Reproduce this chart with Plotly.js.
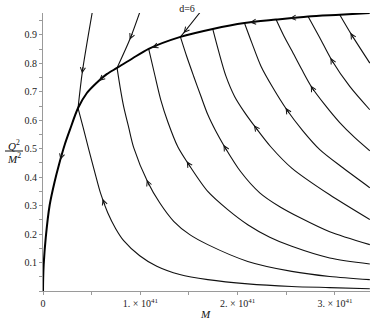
<!DOCTYPE html>
<html><head><meta charset="utf-8">
<script src="https://cdn.plot.ly/plotly-3.0.1.min.js"></script>
<style>html,body{margin:0;padding:0;background:#fff}#chart{width:374px;height:320px}</style>
</head><body><div id="chart"></div>
<script>
// ---- data (M in units of 1e41, y = Q^2/M^2) ----
const xTickVals = [0, 1, 2, 3];
const xTickText = ['0', '1. × 10<sup>41</sup>', '2. × 10<sup>41</sup>', '3. × 10<sup>41</sup>'];
const yTickVals = [0.1, 0.2, 0.3, 0.4, 0.5, 0.6, 0.7, 0.8, 0.9];
const yTickText = ['0.1', '0.2', '0.3', '0.4', '0.5', '0.6', '0.7', '0.8', '0.9'];

// bold extremal curve
const boldX = [0, 0.002, 0.007, 0.028, 0.069, 0.120, 0.164, 0.223, 0.277, 0.360, 0.449, 0.549, 0.655, 0.761, 0.922, 1.086, 1.412, 1.744, 2.070, 2.395, 2.724, 3.049, 3.357];
const boldY = [0, 0.046, 0.0925, 0.187, 0.303, 0.385, 0.444, 0.514, 0.567, 0.643, 0.695, 0.731, 0.762, 0.784, 0.818, 0.851, 0.893, 0.921, 0.942, 0.954, 0.965, 0.971, 0.977];

// flow lines above the bold curve (coming down onto it)
const flow1UpX = [0.511, 0.405, 0.360];
const flow1UpY = [0.989, 0.772, 0.643];
const flow2UpX = [1.004, 0.898, 0.761];
const flow2UpY = [0.989, 0.889, 0.784];
const flow4UpX = [1.611, 1.446, 1.412];
const flow4UpY = [0.978, 0.907, 0.893];

// flow lines below the bold curve
const flow1X = [0.360, 0.413, 0.470, 0.531, 0.593, 0.665, 0.747, 0.829, 0.994, 1.169, 1.405, 1.693, 2.104, 2.556, 2.946, 3.358];
const flow1Y = [0.643, 0.574, 0.498, 0.419, 0.342, 0.275, 0.219, 0.177, 0.124, 0.087, 0.058, 0.040, 0.025, 0.016, 0.012, 0.008];
const flow2X = [0.761, 0.793, 0.829, 0.881, 0.932, 1.076, 1.199, 1.343, 1.508, 1.693, 2.104, 2.556, 2.946, 3.358];
const flow2Y = [0.784, 0.715, 0.648, 0.574, 0.504, 0.383, 0.310, 0.245, 0.198, 0.163, 0.104, 0.069, 0.051, 0.040];
const flow3X = [1.086, 1.148, 1.210, 1.282, 1.385, 1.497, 1.693, 1.898, 2.104, 2.330, 2.556, 2.946, 3.358];
const flow3Y = [0.851, 0.760, 0.672, 0.595, 0.507, 0.445, 0.350, 0.286, 0.233, 0.189, 0.157, 0.116, 0.095];
const flow4X = [1.412, 1.477, 1.549, 1.621, 1.693, 1.775, 1.864, 2.032, 2.227, 2.433, 2.638, 2.946, 3.358];
const flow4Y = [0.893, 0.824, 0.754, 0.686, 0.620, 0.562, 0.508, 0.419, 0.345, 0.296, 0.258, 0.208, 0.163];
const flow5X = [1.744, 1.806, 1.878, 1.970, 2.073, 2.186, 2.340, 2.556, 2.946, 3.358];
const flow5Y = [0.921, 0.841, 0.757, 0.683, 0.627, 0.574, 0.507, 0.432, 0.338, 0.251];
const flow6X = [2.070, 2.145, 2.241, 2.361, 2.505, 2.670, 2.844, 3.081, 3.358];
const flow6Y = [0.942, 0.873, 0.789, 0.715, 0.637, 0.563, 0.497, 0.433, 0.363];
const flow7X = [2.395, 2.474, 2.556, 2.658, 2.758, 2.895, 3.049, 3.204, 3.358];
const flow7Y = [0.954, 0.897, 0.845, 0.779, 0.718, 0.655, 0.592, 0.539, 0.493];
const flow8X = [2.724, 2.844, 2.964, 3.152, 3.358];
const flow8Y = [0.965, 0.890, 0.813, 0.719, 0.637];
const flow9X = [3.049, 3.170, 3.358];
const flow9Y = [0.971, 0.901, 0.801];

// direction arrows: approximate location, the curve it sits on, and flow sense along the curve's point order
const arrowX = [0.405, 0.891, 1.446, 0.177, 0.572, 1.117, 2.124, 2.535, 0.590, 1.066, 1.487, 1.857, 2.176, 2.494, 2.751, 2.957, 3.162];
const arrowY = [0.764, 0.883, 0.906, 0.461, 0.739, 0.857, 0.945, 0.959, 0.321, 0.391, 0.458, 0.514, 0.585, 0.644, 0.722, 0.820, 0.908];
const arrowCurve = ['flow1Up', 'flow2Up', 'flow4Up', 'bold', 'bold', 'bold', 'bold', 'bold', 'flow1', 'flow2', 'flow3', 'flow4', 'flow5', 'flow6', 'flow7', 'flow8', 'flow9'];
const arrowSense = [1, 1, 1, -1, -1, -1, -1, -1, -1, -1, -1, -1, -1, -1, -1, -1, -1];

// ---- build ----
const curves = {
  bold: [boldX, boldY],
  flow1Up: [flow1UpX, flow1UpY], flow2Up: [flow2UpX, flow2UpY], flow4Up: [flow4UpX, flow4UpY],
  flow1: [flow1X, flow1Y], flow2: [flow2X, flow2Y], flow3: [flow3X, flow3Y],
  flow4: [flow4X, flow4Y], flow5: [flow5X, flow5Y], flow6: [flow6X, flow6Y], flow7: [flow7X, flow7Y],
  flow8: [flow8X, flow8Y], flow9: [flow9X, flow9Y]
};
const W = 374, H = 320;
const margin = {l: 43, r: 4, t: 13, b: 29};
const xRange = [0, 3.36], yRange = [0, 0.977];
const kx = (W - margin.l - margin.r) / (xRange[1] - xRange[0]);
const ky = (H - margin.t - margin.b) / (yRange[1] - yRange[0]);

const traces = [];
['flow1Up', 'flow2Up', 'flow4Up', 'flow1', 'flow2', 'flow3', 'flow4', 'flow5', 'flow6', 'flow7', 'flow8', 'flow9'].forEach(k => {
  traces.push({x: curves[k][0], y: curves[k][1], type: 'scatter', mode: 'lines',
    line: {color: '#111', width: 1.1, shape: 'spline', smoothing: 0.8}, hoverinfo: 'skip', showlegend: false});
});
traces.push({x: boldX, y: boldY, type: 'scatter', mode: 'lines',
  line: {color: '#000', width: 2, shape: 'spline', smoothing: 0.8}, hoverinfo: 'skip', showlegend: false});

const annotations = [];
for (let i = 0; i < arrowX.length; i++) {
  const [cx, cy] = curves[arrowCurve[i]];
  const hx = arrowX[i] * kx, hy = -arrowY[i] * ky;
  let best = null;
  for (let j = 0; j < cx.length - 1; j++) {
    const ax = cx[j] * kx, ay = -cy[j] * ky, bx = cx[j + 1] * kx, by = -cy[j + 1] * ky;
    const dx = bx - ax, dy = by - ay, L2 = dx * dx + dy * dy;
    let t = ((hx - ax) * dx + (hy - ay) * dy) / L2;
    t = Math.max(0, Math.min(1, t));
    const px = ax + t * dx, py = ay + t * dy;
    const d = (px - hx) ** 2 + (py - hy) ** 2;
    if (!best || d < best.d) best = {d, px, py, dx, dy};
  }
  const len = Math.hypot(best.dx, best.dy);
  const ux = best.dx / len * arrowSense[i], uy = best.dy / len * arrowSense[i];
  const tail = 8;
  annotations.push({
    x: best.px / kx, y: -best.py / ky, xref: 'x', yref: 'y',
    ax: -ux * tail, ay: -uy * tail, axref: 'pixel', ayref: 'pixel',
    text: '', showarrow: true, arrowhead: 5, arrowsize: 1.0, arrowwidth: 1,
    arrowcolor: '#111', standoff: 0
  });
}

const serif = 'Liberation Serif';
const plotH = H - margin.t - margin.b, plotW = W - margin.l - margin.r;
annotations.push({xref: 'paper', yref: 'paper', x: (205 - margin.l) / plotW, y: (H - margin.b - 314) / plotH,
  text: '<i>M</i>', showarrow: false, font: {family: serif, size: 11, color: '#111'}, xanchor: 'center', yanchor: 'middle'});
annotations.push({xref: 'paper', yref: 'paper', x: (14 - margin.l) / plotW, y: (H - margin.b - 145) / plotH,
  text: '<i>Q</i><sup>2</sup>', showarrow: false, font: {family: serif, size: 11, color: '#111'}, xanchor: 'center', yanchor: 'middle'});
annotations.push({xref: 'paper', yref: 'paper', x: (14 - margin.l) / plotW, y: (H - margin.b - 158) / plotH,
  text: '<i>M</i><sup>2</sup>', showarrow: false, font: {family: serif, size: 11, color: '#111'}, xanchor: 'center', yanchor: 'middle'});

const shapes = [{type: 'line', xref: 'paper', yref: 'paper',
  x0: (5 - margin.l) / plotW, x1: (23 - margin.l) / plotW,
  y0: (H - margin.b - 151) / plotH, y1: (H - margin.b - 151) / plotH,
  line: {color: '#111', width: 1}}];

const axisCommon = {
  showline: true, linecolor: '#9a9a9a', linewidth: 1, showgrid: false, zeroline: false,
  ticks: 'outside', ticklen: 3, tickwidth: 1, tickcolor: '#9a9a9a',
  tickfont: {family: serif, size: 10, color: '#222'}, automargin: false, fixedrange: true
};

const layout = {
  width: W, height: H, margin: margin, paper_bgcolor: '#fff', plot_bgcolor: '#fff',
  font: {family: serif, size: 10, color: '#222'},
  title: {text: 'd=6', x: 187 / W, xref: 'container', xanchor: 'center', y: 1 - 8 / H, yref: 'container', yanchor: 'middle',
    font: {family: serif, size: 10, color: '#111'}},
  xaxis: Object.assign({}, axisCommon, {range: xRange, tickmode: 'array', tickvals: xTickVals, ticktext: xTickText,
    minor: {tickmode: 'linear', tick0: 0, dtick: 0.5, ticks: 'outside', ticklen: 3, tickcolor: '#9a9a9a', showgrid: false}}),
  yaxis: Object.assign({}, axisCommon, {range: yRange, tickmode: 'array', tickvals: yTickVals, ticktext: yTickText,
    minor: {tickmode: 'linear', tick0: 0, dtick: 0.05, ticks: 'outside', ticklen: 3, tickcolor: '#9a9a9a', showgrid: false}}),
  annotations: annotations, shapes: shapes, showlegend: false
};

Plotly.newPlot('chart', traces, layout, {staticPlot: true, displayModeBar: false});
</script>
</body></html>
